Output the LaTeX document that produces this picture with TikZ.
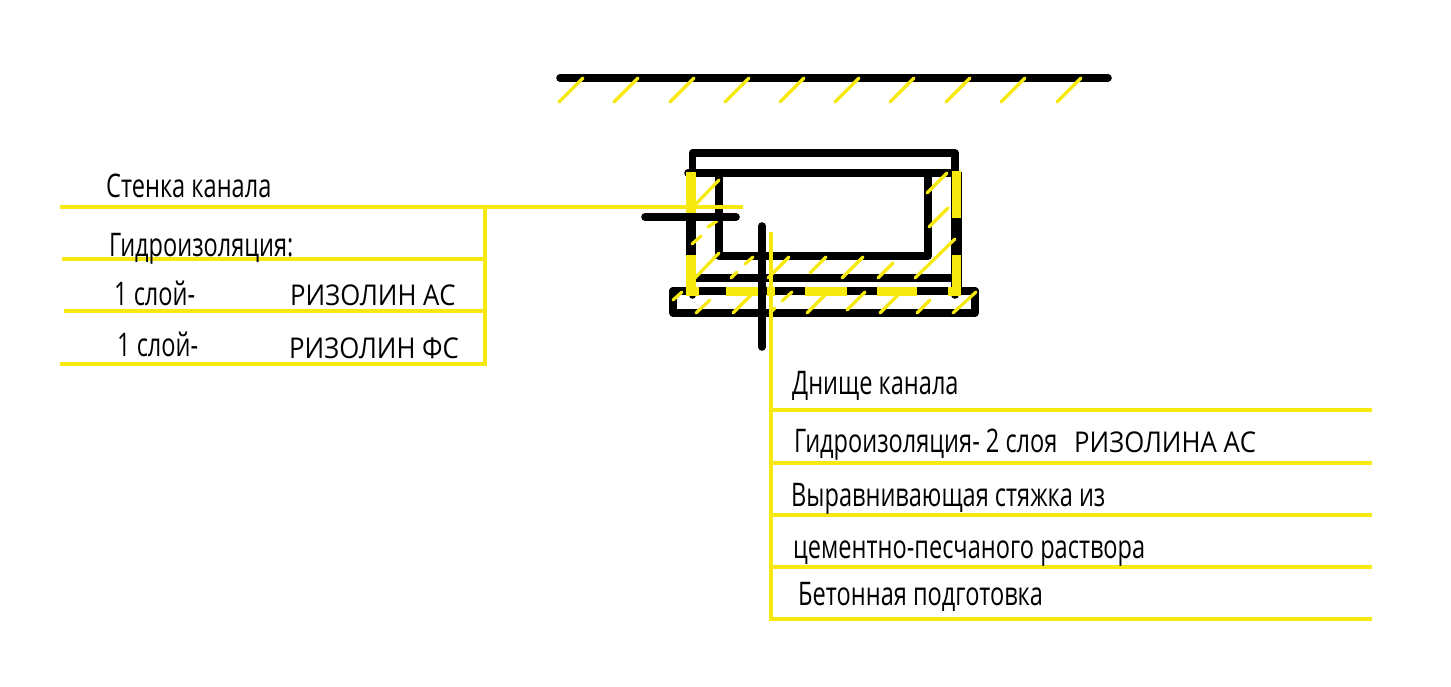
\documentclass[tikz,border=0pt]{standalone}
\usepackage{fontspec}
\setmainfont[FakeStretch=0.725]{Open Sans}
\newfontfamily\capsfont[FakeStretch=0.9]{Open Sans}
\definecolor{ylwc}{HTML}{F5E90F}
\tikzset{
  blk/.style={line width=7.6pt,black,line cap=round,line join=round},
  ylw/.style={draw=ylwc,line width=3.8pt},
  hat/.style={draw=ylwc,line width=3.2pt,line cap=round},
  yfill/.style={fill=ylwc,draw=none},
  lbl/.style={anchor=base west,inner sep=0pt,font=\fontsize{32.5}{36}\selectfont},
  capl/.style={anchor=base west,inner sep=0pt,font=\capsfont\fontsize{28.6}{32}\selectfont}
}
\begin{document}
\begin{tikzpicture}[x=1pt,y=-1pt]
\useasboundingbox (0,0) rectangle (1451,687);
% ground
\draw[blk] (560,78) -- (1108,78);
\foreach \x in {583,638,694,749,804,859,914,970,1025,1081}
  \draw[hat] (\x,78) -- ++(-24,24);
% channel body
\draw[blk] (692.5,295) -- (692.5,153) -- (955,153) -- (955,295);
\draw[blk] (688,173) -- (950,173);
\draw[blk] (719,173) -- (719,256) -- (928,256) -- (928,173);
\draw[blk] (692,278) -- (955,278);
\draw[blk,line width=8pt] (673,291) -- (975,291);
\draw[blk] (673,291) -- (673,313) -- (975,313) -- (975,291);
\draw[line width=3pt,black] (687.5,172) -- (687.5,295);
\draw[line width=5pt,black] (959.5,172) -- (959.5,295);
% yellow membrane
\fill[yfill] (685.5,172) rectangle (695.5,214);
\fill[yfill] (685.5,255) rectangle (695.5,295.5);
\fill[yfill] (695,287) rectangle (699,295.5);
\fill[yfill] (951.5,171) rectangle (961,218);
\fill[yfill] (951.5,255) rectangle (960.5,295.5);
\fill[yfill] (948,287) rectangle (952,295.5);
\fill[yfill] (726,287) rectangle (758,295.5);
\fill[yfill] (767,287) rectangle (775,295.5);
\fill[yfill] (805,287) rectangle (847,295.5);
\fill[yfill] (877,287) rectangle (917,295.5);
% hatching
\foreach \a/\b/\c/\d in {
 719/180/695/205, 717/221/708/227, 701/236/692/244,
 947/173/927/193, 948/208/929/227, 955/239/915/278,
 719/253/695/278, 753/257/745/264, 737/272/731/278,
 789/257/768/278, 826/257/810/273, 863/257/842/278, 893/263/878/278,
 682/292/673/300, 710/300/696/313, 752/294/733/313, 792/292/782/301,
 775/308/770/313, 826/294/807/313, 865/292/847/310, 899/294/880/313,
 930/300/917/313, 976/292/953/313}
  \draw[hat] (\a,\b) -- (\c,\d);
% leaders, black ticks
\draw[blk] (645,217) -- (736,217);
\draw[blk] (762,226) -- (762,347);
\draw[ylw] (60,207) -- (743,207);
\draw[ylw] (62,259) -- (485,259);
\draw[ylw] (64,311) -- (485,311);
\draw[ylw] (60,364) -- (485,364) -- (485,207);
\draw[ylw] (771,232) -- (771,619) -- (1372,619);
\foreach \y in {410,463,515,567}
  \draw[ylw] (771,\y) -- (1372,\y);
% labels
\node[lbl] (t1) at (106,198) {Стенка канала};
\node[lbl] (t2) at (109,256) {Гидроизоляция:};
\node[lbl] (t3) at (114,305) {1 слой-};
\node[capl] (t4) at (290,305) {РИЗОЛИН АС};
\node[lbl] (t5) at (117,356) {1 слой-};
\node[capl] (t6) at (289,358) {РИЗОЛИН ФС};
\node[lbl] (t7) at (792,394) {Днище канала};
\node[lbl] (t8) at (794,452) {Гидроизоляция- 2 слоя};
\node[capl] (t9) at (1074,452) {РИЗОЛИНА АС};
\node[lbl] (t10) at (791,506) {Выравнивающая стяжка из};
\node[lbl] (t11) at (793,558) {цементно-песчаного раствора};
\node[lbl] (t12) at (798,605) {Бетонная подготовка};
\end{tikzpicture}
\end{document}
